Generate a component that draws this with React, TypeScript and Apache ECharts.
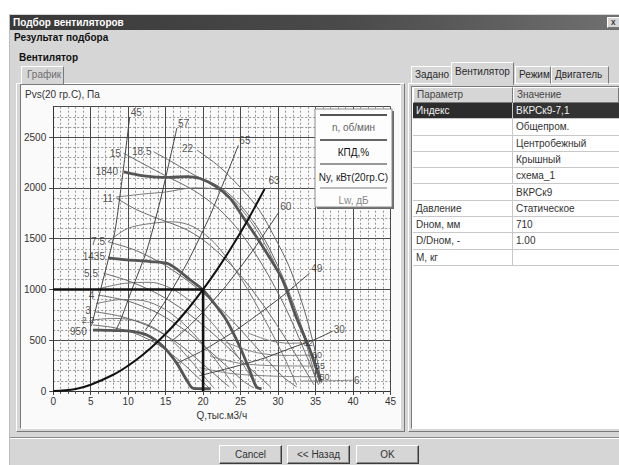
import React, { useEffect, useRef } from "react";
import * as echarts from "echarts";

// ---- axes ----
const Q_MIN = 0;
const Q_MAX = 45;
const P_MIN = 0;
const P_MAX = 2800;

// ---- thick rpm curves (n, об/мин) ----
const rpm950 = [[5.3, 600], [7, 598], [9, 595], [10.3, 590], [12.5, 551], [14.7, 436], [16.5, 272], [17.8, 108], [18.7, 26], [21, 22]];
const rpm1435 = [[7.3, 1312], [9.9, 1292], [13, 1275], [15.2, 1257], [16.5, 1200], [18.3, 1093], [19.9, 1001], [21.5, 860], [23.1, 699], [24.9, 436], [26.2, 207], [27.1, 42], [27.8, 20]];
const rpm1840 = [[9.4, 2158], [10.4, 2142], [12.1, 2118], [15.2, 2103], [17.8, 2112], [19.6, 2093], [21.8, 2011], [23.6, 1897], [25.3, 1716], [27.1, 1519], [28.8, 1322], [30.6, 1093], [32.4, 731], [34.1, 436], [35.2, 207], [35.7, 92]];

// ---- thin rpm curves ----
const thinRpm1 = [[5.3, 700], [8, 715], [10.5, 700], [13, 640], [15.5, 520], [18, 330], [20.5, 110], [21.5, 25]];
const thinRpm2 = [[5.7, 860], [9, 900], [12, 890], [15, 800], [18, 620], [21, 370], [23.5, 120], [24.5, 30]];
const thinRpm3 = [[6.2, 1010], [9.5, 1060], [13, 1070], [16, 1000], [19, 840], [22, 600], [25, 300], [27, 60]];
const thinRpm4 = [[7.3, 1470], [9.9, 1600], [13, 1650], [16.1, 1666], [18.7, 1617], [21.5, 1460], [24.5, 1170], [27.5, 800], [30.5, 380], [32.5, 60]];
const thinRpm5 = [[8.4, 1910], [12, 1940], [15, 1960], [18.7, 2000], [22.2, 1980], [25, 1800], [28, 1480], [31, 1020], [33.5, 520], [35.2, 80]];

// ---- power lines (Ny, кВт) ----
const pow2_2 = [[5.3, 650], [8, 625], [11, 565], [14, 455], [17, 290], [19.5, 120], [20.8, 30]];
const pow3 = [[5.6, 780], [9, 735], [13, 630], [17, 450], [20.5, 230], [23.5, 40]];
const pow4 = [[6.0, 945], [10, 885], [14, 765], [18, 575], [22, 320], [25.5, 90], [26.8, 30]];
const pow5_5 = [[6.7, 1160], [10, 1085], [14, 955], [18, 765], [22, 520], [26, 240], [29, 40]];
const pow7_5 = [[7.3, 1470], [11, 1385], [15, 1235], [19, 1025], [23, 760], [27, 440], [30.5, 150], [32.5, 40]];
const pow11 = [[8.4, 1900], [11, 1790], [13.4, 1715], [17.9, 1585], [21, 1430], [24.5, 1180], [28, 850], [31.5, 460], [34.8, 60]];
const pow15 = [[9.4, 2342], [14.3, 2146], [18.7, 1978], [22, 1800], [25, 1560], [28, 1230], [31, 820], [33.5, 400], [35.4, 60]];
const pow18_5 = [[13.4, 2356], [16, 2250], [19, 2120], [22.2, 2011], [25, 1830], [28, 1520], [31, 1060], [33.5, 560], [35.6, 70]];
const pow22 = [[19.2, 2372], [22.2, 2208], [25.3, 1978], [27.5, 1781], [29.5, 1520], [31.5, 1223], [33.5, 800], [35, 380], [35.8, 80]];

// ---- efficiency lines (КПД, %) ----
const eff45 = [[5.1, 640], [6.5, 1050], [8.2, 1560], [9.3, 2150], [10.2, 2700]];
const eff57 = [[8.3, 590], [9, 700], [10.5, 1000], [12.5, 1388], [14.3, 1880], [16.5, 2590]];
const eff65 = [[12.3, 600], [15, 890], [18, 1280], [21, 1740], [24.7, 2420]];
const eff60 = [[15.8, 490], [18, 630], [20, 780], [23, 1030], [26.5, 1370], [30.1, 1760]];
const eff49 = [[16.5, 272], [20, 400], [24, 580], [28, 790], [31, 960], [34.2, 1160]];
const eff30 = [[19.5, 150], [24.5, 245], [28, 320], [32, 430], [35, 510], [37.3, 590]];

// ---- sound lines (Lw, дБ) ----
const lw62 = [[26, 570], [29, 495], [31.5, 470], [33.2, 473]];
const lw60 = [[23, 480], [27, 380], [31, 350], [34.4, 354]];
const lw55 = [[21, 340], [25, 272], [30, 248], [34.8, 246]];
const lw50 = [[19.5, 230], [24, 170], [30, 145], [35.4, 140]];
const lw6 = [[33, 98], [36.5, 100], [40, 106]];

// ---- system curve and operating point ----
const systemCurve = [[0, 0], [3, 20], [5, 62], [8, 160], [10, 250], [12, 360], [14, 490], [16, 640], [18, 810], [20, 1000], [22, 1210], [24, 1440], [26, 1690], [28.2, 1990]];
const opHorizontal = [[0, 1000], [20, 1000]];
const opVertical = [[20, 0], [20, 1000]];

// ---- curve labels: text, Q, P, side, font size ----
const curveLabels: [string, number, number, string, number][] = [
  ["45", 10.2, 2746, "right", 10],
  ["57", 16.5, 2635, "right", 10],
  ["65", 24.7, 2470, "right", 10],
  ["63", 28.6, 2077, "right", 10],
  ["60", 30.15, 1814, "right", 10],
  ["49", 34.3, 1210, "right", 10],
  ["30", 37.3, 610, "right", 10],
  ["62", 33.2, 473, "right", 9],
  ["60", 34.4, 354, "right", 9],
  ["55", 34.8, 246, "right", 9],
  ["50", 35.4, 140, "right", 9],
  ["6", 40.0, 108, "right", 10],
  ["22", 18.8, 2388, "left", 10],
  ["18.5", 13.25, 2362, "left", 10],
  ["15", 9.15, 2342, "left", 10],
  ["1840", 8.77, 2165, "left", 10],
  ["11", 8.1, 1900, "left", 10],
  ["7.5", 7.04, 1470, "left", 10],
  ["1435", 7.04, 1322, "left", 10],
  ["5.5", 6.1, 1158, "left", 10],
  ["4", 5.6, 945, "left", 10],
  ["3", 5.15, 790, "left", 10],
  ["2.2", 5.6, 700, "left", 9],
  ["950", 4.6, 590, "left", 10],
];

// ---- legend entries ----
const legendItems = ["n, об/мин", "КПД,%", "Ny, кВт(20гр.С)", "Lw, дБ"];

// ---- UI texts ----
const rightTabs = ["Задано", "Вентилятор", "Режим", "Двигатель"];
const tableHeader = ["Параметр", "Значение"];
const paramNames = ["Индекс", "", "", "", "", "", "Давление", "Dном, мм", "D/Dном, -", "M, кг"];
const paramValues = ["ВКРСк9-7,1", "Общепром.", "Центробежный", "Крышный", "схема_1", "ВКРСк9", "Статическое", "710", "1.00", ""];
const buttons = ["Cancel", "<< Назад", "OK"];

const FONT = '"Liberation Sans", Arial, sans-serif';

function mkLine(data: number[][], color: string, width: number, z = 3, smooth: number | boolean = 0.3) {
  return {
    type: "line",
    data,
    smooth,
    symbol: "none",
    showSymbol: false,
    silent: true,
    z,
    lineStyle: { color, width },
    xAxisIndex: 1,
    yAxisIndex: 1,
  };
}

function buildOption() {
  const thin = "#787878";
  const effC = "#444";
  const series: any[] = [];
  [lw62, lw60, lw55, lw50, lw6].forEach((d) => series.push(mkLine(d, "#858585", 1, 2)));
  [thinRpm1, thinRpm2, thinRpm3, thinRpm4, thinRpm5].forEach((d) => series.push(mkLine(d, thin, 1, 3)));
  [pow2_2, pow3, pow4, pow5_5, pow7_5, pow11, pow15, pow18_5, pow22].forEach((d) => series.push(mkLine(d, "#6a6a6a", 1, 3)));
  [eff45, eff57, eff65, eff60, eff49, eff30].forEach((d) => series.push(mkLine(d, effC, 1, 4, 0.2)));
  [rpm950, rpm1435, rpm1840].forEach((d) => series.push(mkLine(d, "#555", 2.8, 5)));
  series.push(mkLine(systemCurve, "#111", 2, 6, 0.4));
  series.push(mkLine(opHorizontal, "#111", 2.6, 6, false));
  series.push(mkLine(opVertical, "#111", 2.6, 6, false));
  series.push({
    type: "scatter",
    symbolSize: 0,
    silent: true,
    z: 8,
    xAxisIndex: 1,
    yAxisIndex: 1,
    data: curveLabels.map(([t, q, p, side, fs]) => ({
      value: [q, p],
      label: {
        show: true,
        formatter: t,
        position: side,
        distance: 1,
        fontSize: fs,
        fontFamily: FONT,
        color: "#2a2a2a",
      },
    })),
  });

  const lgX = 294, lgY = 24, lgW = 77, lgH = 98;
  const lineYs = [30, 55, 79, 103];
  const textYs = [42, 67, 92, 115];
  const lineStyles = [
    { stroke: "#555", lineWidth: 2 },
    { stroke: "#333", lineWidth: 1.5 },
    { stroke: "#333", lineWidth: 1 },
    { stroke: "#777", lineWidth: 1 },
  ];
  const textColors = ["#666", "#111", "#222", "#888"];
  const graphic: any[] = [
    { type: "text", x: 4, y: 4, z: 100, style: { text: "Pvs(20 гр.С), Па", fontSize: 10, fontFamily: FONT, fill: "#333" } },
    { type: "rect", z: 100, shape: { x: lgX + 2, y: lgY + 2, width: lgW, height: lgH }, style: { fill: "#6a6a6a" } },
    { type: "rect", z: 101, shape: { x: lgX, y: lgY, width: lgW, height: lgH }, style: { fill: "#fdfdfd", stroke: "#8a8a8a", lineWidth: 1 } },
  ];
  legendItems.forEach((t, i) => {
    graphic.push({ type: "line", z: 102, shape: { x1: lgX + 5, y1: lineYs[i], x2: lgX + lgW - 5, y2: lineYs[i] }, style: lineStyles[i] });
    graphic.push({
      type: "text",
      z: 102,
      x: lgX + lgW / 2,
      y: textYs[i],
      style: { text: t, fontSize: 10, fontFamily: FONT, fill: textColors[i], align: "center", verticalAlign: "middle" },
    });
  });

  const hidden = { show: false };
  return {
    animation: false,
    backgroundColor: "#fafafa",
    textStyle: { fontFamily: FONT },
    grid: { left: 30.7, top: 21.7, width: 340.6, height: 284.3, show: false },
    xAxis: [
      {
        type: "value", min: Q_MIN, max: Q_MAX, interval: 1, position: "top",
        axisLine: hidden, axisTick: hidden, axisLabel: hidden,
        splitLine: { show: true, lineStyle: { color: "#949494", width: 1, type: [2, 2] } },
      },
      {
        type: "value", min: Q_MIN, max: Q_MAX, interval: 5, position: "bottom",
        axisLine: { show: true, onZero: false, lineStyle: { color: "#333", width: 1 } },
        axisTick: { show: true, length: 4, lineStyle: { color: "#444" } },
        minorTick: { show: true, splitNumber: 5, length: 3, lineStyle: { color: "#555" } },
        axisLabel: { fontSize: 10, color: "#333", margin: 5, fontFamily: FONT, formatter: (v: number) => String(v) },
        splitLine: { show: true, lineStyle: { color: "#4a4a4a", width: 1 } },
        name: "Q,тыс.м3/ч", nameLocation: "middle", nameGap: 17,
        nameTextStyle: { fontSize: 10, color: "#333", fontFamily: FONT },
      },
    ],
    yAxis: [
      {
        type: "value", min: P_MIN, max: P_MAX, interval: 100, position: "right",
        axisLine: hidden, axisTick: hidden, axisLabel: hidden,
        splitLine: { show: true, lineStyle: { color: "#949494", width: 1, type: [2, 2] } },
      },
      {
        type: "value", min: P_MIN, max: P_MAX, interval: 500, position: "left",
        axisLine: { show: true, onZero: false, lineStyle: { color: "#333", width: 1 } },
        axisTick: { show: true, length: 4, lineStyle: { color: "#444" } },
        axisLabel: { fontSize: 10, color: "#333", margin: 7, showMaxLabel: false, fontFamily: FONT, formatter: (v: number) => String(v) },
        splitLine: { show: true, lineStyle: { color: "#4a4a4a", width: 1 } },
      },
    ],
    series,
    graphic,
  };
}

const raised: React.CSSProperties = {
  borderStyle: "solid",
  borderWidth: 1,
  borderColor: "#ffffff #7a7a7a #7a7a7a #ffffff",
  boxSizing: "border-box",
};
const sunken: React.CSSProperties = {
  borderStyle: "solid",
  borderWidth: 1,
  borderColor: "#7a7a7a #ffffff #ffffff #7a7a7a",
  boxSizing: "border-box",
};
function abs(x: number, y: number, w: number, h: number, extra: React.CSSProperties = {}): React.CSSProperties {
  return { position: "absolute", left: x, top: y, width: w, height: h, boxSizing: "border-box", ...extra };
}

const tabBoxes = [
  [411, 66, 41, 18],
  [451, 62, 63, 22],
  [515, 66, 36, 18],
  [551, 66, 58, 18],
];
const rowY0 = 103;
const rowH = 16.3;

export default function App() {
  const ref = useRef<HTMLDivElement>(null);
  useEffect(() => {
    if (!ref.current) return;
    const chart = echarts.init(ref.current, null, { renderer: "svg" });
    chart.setOption(buildOption() as any);
    return () => chart.dispose();
  }, []);

  return (
    <div
      style={{
        position: "fixed", left: 0, top: 0, width: 619, height: 465, overflow: "hidden",
        background: "#ffffff", fontFamily: FONT, fontSize: 10, color: "#222",
      }}
    >
      {/* window body */}
      <div style={abs(9, 14, 620, 460, { background: "#d6d6d6", borderLeft: "1px solid #bdbdbd" })} />
      {/* title bar */}
      <div
        style={abs(10, 15, 609, 15, {
          background: "linear-gradient(to right, #393939, #4a4a4a 55%, #707070)",
          color: "#fff", fontWeight: "bold", fontSize: 10, lineHeight: "15px", paddingLeft: 3, whiteSpace: "nowrap",
        })}
      >
        Подбор вентиляторов
      </div>
      <div style={abs(607, 17, 14, 11, { ...raised, background: "#d6d6d6", fontSize: 9, lineHeight: "9px", paddingLeft: 3, color: "#000" })}>x</div>

      <div style={abs(14, 31, 200, 14, { fontWeight: "bold", fontSize: 10, lineHeight: "14px", color: "#111" })}>Результат подбора</div>
      <div style={abs(19, 51, 200, 14, { fontWeight: "bold", fontSize: 10, lineHeight: "14px", color: "#111" })}>Вентилятор</div>

      {/* left panel */}
      <div style={abs(16, 83, 389, 349, { ...raised, background: "#d6d6d6" })} />
      <div style={abs(21, 66, 43, 19, { ...raised, borderBottom: "none", background: "#d6d6d6", color: "#6e6e6e", paddingLeft: 5, lineHeight: "16px" })}>
        График
      </div>
      <div style={abs(20, 84, 381, 345, { ...sunken, background: "#fafafa" })} />
      <div ref={ref} style={{ position: "absolute", left: 21, top: 85, width: 378, height: 343 }} />

      {/* right panel */}
      <div style={abs(408, 83, 215, 349, { ...raised, background: "#d6d6d6" })} />
      {rightTabs.map((t, i) => {
        const [x, y, w, h] = tabBoxes[i];
        const sel = i === 1;
        return (
          <div
            key={t}
            style={abs(x, y, w, h + (sel ? 1 : 0), {
              ...raised,
              borderBottom: sel ? "none" : "1px solid #ffffff",
              background: "#d6d6d6",
              color: "#2a2a2a",
              paddingLeft: 3,
              lineHeight: sel ? "18px" : "15px",
              whiteSpace: "nowrap",
              overflow: "hidden",
              zIndex: sel ? 2 : 1,
            })}
          >
            {t}
          </div>
        );
      })}
      <div style={abs(411, 86, 210, 343, { ...sunken, background: "#ffffff" })} />
      {/* table header */}
      {tableHeader.map((t, i) => (
        <div
          key={t}
          style={abs(i === 0 ? 413 : 513, 87, i === 0 ? 100 : 106, 16, {
            ...raised, background: "#d6d6d6", color: "#444", paddingLeft: 3, lineHeight: "14px",
          })}
        >
          {t}
        </div>
      ))}
      {paramNames.map((name, i) => {
        const y = rowY0 + i * rowH;
        const sel = i === 0;
        return (
          <React.Fragment key={i}>
            <div
              style={abs(413, y, 100, rowH, {
                background: sel ? "#2c2c2c" : "#ffffff",
                color: sel ? "#f2f2f2" : "#333",
                borderRight: "1px solid #c8c8c8", borderBottom: "1px solid #c8c8c8",
                paddingLeft: 3, lineHeight: "15px", whiteSpace: "nowrap",
              })}
            >
              {name}
            </div>
            <div
              style={abs(513, y, 106, rowH, {
                background: sel ? "#333333" : "#ffffff",
                color: sel ? "#f2f2f2" : "#333",
                borderBottom: "1px solid #c8c8c8",
                paddingLeft: 3, lineHeight: "15px", whiteSpace: "nowrap",
              })}
            >
              {paramValues[i]}
            </div>
          </React.Fragment>
        );
      })}

      {/* bottom bar */}
      <div style={abs(10, 437, 609, 2, { borderTop: "1px solid #8c8c8c", borderBottom: "1px solid #ffffff" })} />
      {buttons.map((b, i) => {
        const xs = [219, 287, 356];
        return (
          <div
            key={b}
            style={abs(xs[i], 445, 63, 19, {
              borderStyle: "solid", borderWidth: 1, borderColor: "#ffffff #3c3c3c #3c3c3c #ffffff",
              boxShadow: "inset -1px -1px 0 #8a8a8a",
              background: "#d6d6d6", color: "#333", textAlign: "center", lineHeight: "17px",
            })}
          >
            {b}
          </div>
        );
      })}
    </div>
  );
}
